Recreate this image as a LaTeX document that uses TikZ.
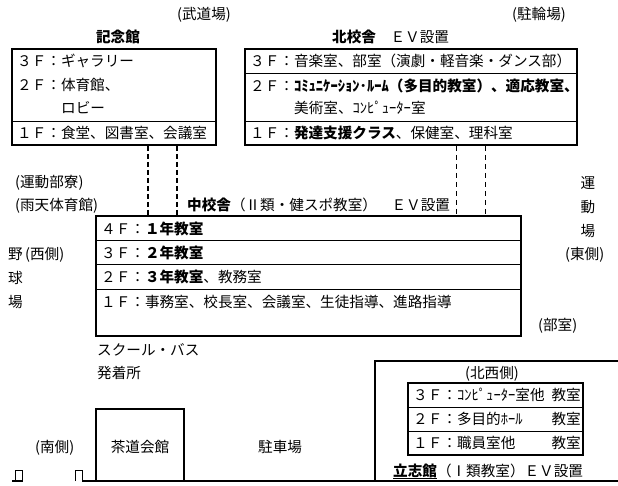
\documentclass[tikz,border=0pt]{standalone}
\usepackage{fontspec}
\setmainfont{Noto Sans CJK JP}
\tikzset{
	lbl/.style={anchor=west,inner sep=0pt,text height=12.8pt,text depth=1.8pt},
	lble/.style={lbl,anchor=east},
	lblc/.style={lbl,anchor=center},
	wall/.style={line width=2pt},
	part/.style={line width=1pt},
	passage/.style={line width=2pt,dash pattern=on 5pt off 3pt},
	passagethin/.style={line width=1pt,dash pattern=on 5pt off 4pt}
}
\begin{document}
\begin{tikzpicture}[x=1pt,y=1pt,font=\fontsize{14.6}{17}\selectfont]
		\useasboundingbox (0,0) rectangle (618,-486);
		% kinenkan
		\draw [wall] (12,-49) rectangle (216,-145);
		\draw [part] (12,-122) -- (216,-122);
		\node [lblc] (kinen) at (118,-37) {\textbf{記念館}};
		\node [lbl] (k3) at (17,-61) {３Ｆ：ギャラリー};
		\node [lbl] (k2) at (17,-85) {２Ｆ：体育館、};
		\node [lbl] (k2b) at (61,-108) {ロビー};
		\node [lbl] (k1) at (17,-133) {１Ｆ：食堂、図書室、会議室};
		\node [lbl] (budo) at (177,-14) {(武道場)};
		% kita kousha
		\draw [wall] (245,-49) rectangle (577,-145);
		\draw [part] (245,-74) -- (577,-74);
		\draw [part] (245,-122) -- (577,-122);
		\node [lbl] (kita) at (332,-37) {\textbf{北校舎}　ＥＶ設置};
		\node [lbl] (n3) at (250,-61) {３Ｆ：音楽室、部室（演劇・軽音楽・ダンス部）};
		\node [lbl] (n2) at (250,-86) {２Ｆ：\textbf{ｺﾐｭﾆｹｰｼｮﾝ･ﾙｰﾑ（多目的教室）、適応教室、}};
		\node [lbl] (n2b) at (294,-108) {美術室、ｺﾝﾋﾟｭｰﾀｰ室};
		\node [lbl] (n1) at (250,-133) {１Ｆ：\textbf{発達支援クラス}、保健室、理科室};
		\node [lbl] (chulin) at (512,-14) {(駐輪場)};
		% naka kousha
		\draw [wall] (96,-216) rectangle (521,-336);
		\foreach \y in {-241,-265,-289}
			\draw [part] (96,\y) -- (521,\y);
		\node [lbl] (naka) at (187,-205) {\textbf{中校舎}（Ⅱ類・健スポ教室）　ＥＶ設置};
		\node [lbl] (c4) at (101,-229) {４Ｆ：\textbf{１年教室}};
		\node [lbl] (c3) at (101,-253) {３Ｆ：\textbf{２年教室}};
		\node [lbl] (c2) at (101,-277) {２Ｆ：\textbf{３年教室}、教務室};
		\node [lbl] (c1) at (101,-302) {１Ｆ：事務室、校長室、会議室、生徒指導、進路指導};
		% passages
		\draw [passage] (148,-146) -- (148,-215);
		\draw [passage] (177,-146) -- (177,-215);
		\draw [passagethin] (456,-146) -- (456,-215);
		\draw [passagethin] (485,-146) -- (485,-215);
		% west side
		\node [lbl] (ryo) at (15,-182) {(運動部寮)};
		\node [lbl] (utenn) at (15,-205) {(雨天体育館)};
		\node [lbl] (ya) at (8,-254) {野};
		\node [lbl] (nishi) at (25,-254) {(西側)};
		\node [lbl] (kyu) at (8,-278) {球};
		\node [lbl] (jo) at (8,-302) {場};
		% east side
		\node [lblc] (un) at (588,-183) {運};
		\node [lblc] (do) at (588,-207) {動};
		\node [lblc] (ba) at (588,-231) {場};
		\node [lbl] (higashi) at (565,-254) {(東側)};
		\node [lbl] (bushitsu) at (538,-325) {(部室)};
		% south
		\node [lbl] (bus) at (97,-350) {スクール・バス};
		\node [lbl] (hatchaku) at (97,-373) {発着所};
		\node [lbl] (minami) at (35,-447) {(南側)};
		\draw [wall] (82,-481) -- (618,-481);
		\draw [wall] (12,-481) -- (23,-481);
		\draw [part] (15,-481) -- (15,-470) -- (22,-470) -- (22,-481);
		\draw [part] (75,-481) -- (75,-470) -- (82,-470) -- (82,-481);
		\draw [wall] (96,-481) -- (96,-409) -- (184,-409) -- (184,-481);
		\node [lblc] (sado) at (140,-447) {茶道会館};
		\node [lbl] (chusha) at (258,-447) {駐車場};
		% risshikan
		\draw [wall] (375,-481) -- (375,-361) -- (618,-361);
		\draw [wall] (408,-383) rectangle (583,-455);
		\draw [part] (408,-407) -- (583,-407);
		\draw [part] (408,-431) -- (583,-431);
		\node [lblc] (hokusei) at (492,-373) {(北西側)};
		\node [lbl] (r3) at (413,-395) {３Ｆ：ｺﾝﾋﾟｭｰﾀｰ室他};
		\node [lbl] (r2) at (413,-419) {２Ｆ：多目的ﾎｰﾙ};
		\node [lbl] (r1) at (413,-443) {１Ｆ：職員室他};
		\foreach \y in {-395,-419,-443}
			\node [lble] at (581,\y) {教室};
		\node [lbl] (risshi) at (393,-471) {\textbf{立志館}（Ⅰ類教室）ＥＶ設置};
		\draw [part] (risshi.south west) ++(0,0.5) -- ++(44,0);
\end{tikzpicture}
\end{document}
